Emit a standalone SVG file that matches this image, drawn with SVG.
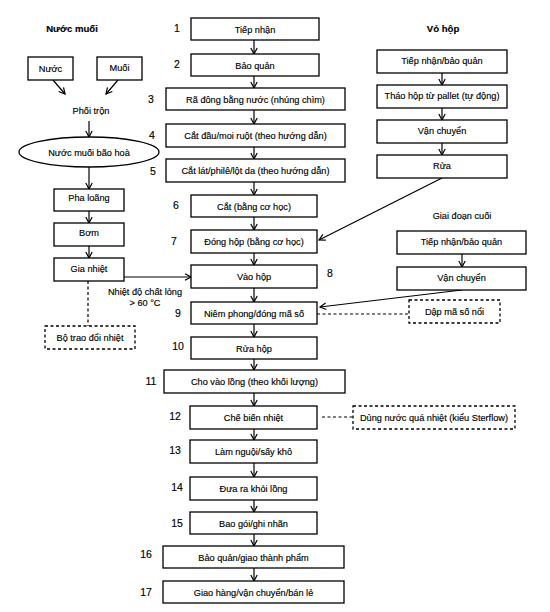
<svg xmlns="http://www.w3.org/2000/svg" width="550" height="612" viewBox="0 0 550 612">
<style>
text{font-family:"Liberation Sans",Arial,sans-serif;font-size:9.2px;fill:#000;stroke:#000;stroke-width:0.15}
.t{text-anchor:middle}
.b{font-weight:bold;font-size:9.6px}
.n{font-size:10.5px;text-anchor:middle}
rect,ellipse{fill:#fff;stroke:#000;stroke-width:1.3}
.d{stroke-dasharray:3,2.5}
.c line{stroke:#000;stroke-width:1.2}
.c .dl{stroke-dasharray:3,2.5}
</style>
<defs>
<marker id="a" markerWidth="8" markerHeight="8" refX="7" refY="4" orient="auto" markerUnits="userSpaceOnUse">
<path d="M1,0.8 L7,4 L1,7.2" fill="none" stroke="#000" stroke-width="1.2"/>
</marker>
</defs>
<rect x="0" y="0" width="550" height="612" style="stroke:none;fill:#fff"/>

<!-- titles -->
<text x="72" y="32" class="t b">Nước muối</text>
<text x="443" y="32" class="t b">Vỏ hộp</text>
<text x="462" y="219" class="t">Giai đoạn cuối</text>

<!-- numbers -->
<g id="numbers">
<text x="177" y="32" class="n">1</text>
<text x="177" y="68" class="n">2</text>
<text x="151" y="103" class="n">3</text>
<text x="152" y="139" class="n">4</text>
<text x="153" y="175" class="n">5</text>
<text x="176" y="209" class="n">6</text>
<text x="174" y="245" class="n">7</text>
<text x="330" y="277" class="n">8</text>
<text x="178" y="317" class="n">9</text>
<text x="178" y="350" class="n">10</text>
<text x="151" y="385" class="n">11</text>
<text x="175" y="420" class="n">12</text>
<text x="175" y="454" class="n">13</text>
<text x="177" y="491" class="n">14</text>
<text x="177" y="527" class="n">15</text>
<text x="146" y="558" class="n">16</text>
<text x="146" y="596" class="n">17</text>
</g>

<!-- connectors -->
<g id="connectors" class="c">
<line x1="254" y1="40" x2="254" y2="54" marker-end="url(#a)"/>
<line x1="254" y1="76" x2="254" y2="88" marker-end="url(#a)"/>
<line x1="254" y1="110" x2="254" y2="124" marker-end="url(#a)"/>
<line x1="254" y1="147" x2="254" y2="159" marker-end="url(#a)"/>
<line x1="254" y1="182" x2="254" y2="195" marker-end="url(#a)"/>
<line x1="254" y1="217" x2="254" y2="230" marker-end="url(#a)"/>
<line x1="254" y1="253" x2="254" y2="265" marker-end="url(#a)"/>
<line x1="254" y1="288" x2="254" y2="302" marker-end="url(#a)"/>
<line x1="254" y1="324" x2="254" y2="337" marker-end="url(#a)"/>
<line x1="254" y1="359" x2="254" y2="370" marker-end="url(#a)"/>
<line x1="254" y1="393" x2="254" y2="406" marker-end="url(#a)"/>
<line x1="254" y1="429" x2="254" y2="440" marker-end="url(#a)"/>
<line x1="254" y1="463" x2="254" y2="477" marker-end="url(#a)"/>
<line x1="254" y1="500" x2="254" y2="512" marker-end="url(#a)"/>
<line x1="254" y1="534" x2="254" y2="546" marker-end="url(#a)"/>
<line x1="254" y1="568" x2="254" y2="581" marker-end="url(#a)"/>
<!-- left -->
<line x1="53" y1="80" x2="65" y2="94" marker-end="url(#a)"/>
<line x1="118" y1="80" x2="106" y2="94" marker-end="url(#a)"/>
<line x1="89" y1="121" x2="89" y2="137" marker-end="url(#a)"/>
<line x1="89" y1="167" x2="89" y2="189" marker-end="url(#a)"/>
<line x1="89" y1="211" x2="89" y2="223" marker-end="url(#a)"/>
<line x1="89" y1="246" x2="89" y2="258" marker-end="url(#a)"/>
<line x1="124" y1="277" x2="191" y2="277" marker-end="url(#a)"/>
<line x1="88" y1="281" x2="88" y2="326" class="dl"/>
<!-- right -->
<line x1="442" y1="73" x2="442" y2="85" marker-end="url(#a)"/>
<line x1="442" y1="108" x2="442" y2="120" marker-end="url(#a)"/>
<line x1="442" y1="143" x2="442" y2="155" marker-end="url(#a)"/>
<line x1="442" y1="178" x2="319" y2="240" marker-end="url(#a)"/>
<line x1="462" y1="254" x2="462" y2="267" marker-end="url(#a)"/>
<line x1="462" y1="290" x2="320" y2="307" marker-end="url(#a)"/>
<line x1="317" y1="314" x2="409" y2="314" class="dl"/>
<line x1="322" y1="417" x2="353" y2="417" class="dl"/>
</g>

<!-- center nodes -->
<g id="n1"><rect x="191" y="18" width="128" height="22"/><text x="255" y="32.5" class="t">Tiếp nhận</text></g>
<g id="n2"><rect x="191" y="54" width="128" height="22"/><text x="255" y="68.5" class="t">Bảo quản</text></g>
<g id="n3"><rect x="166" y="88" width="179" height="22"/><text x="255.5" y="102.5" class="t">Rã đông bằng nước (nhúng chìm)</text></g>
<g id="n4"><rect x="166" y="124" width="179" height="23"/><text x="255.5" y="138.5" class="t">Cắt đầu/moi ruột (theo hướng dẫn)</text></g>
<g id="n5"><rect x="166" y="159" width="179" height="23"/><text x="255.5" y="173.5" class="t">Cắt lát/philê/lột da (theo hướng dẫn)</text></g>
<g id="n6"><rect x="191" y="195" width="126" height="22"/><text x="254" y="209.5" class="t">Cắt (bằng cơ học)</text></g>
<g id="n7"><rect x="191" y="230" width="126" height="23"/><text x="254" y="244.5" class="t">Đóng hộp (bằng cơ học)</text></g>
<g id="n8"><rect x="191" y="265" width="126" height="23"/><text x="254" y="279.5" class="t">Vào hộp</text></g>
<g id="n9"><rect x="191" y="302" width="126" height="22"/><text x="254" y="316.5" class="t">Niêm phong/đóng mã số</text></g>
<g id="n10"><rect x="191" y="337" width="126" height="22"/><text x="254" y="351.5" class="t">Rửa hộp</text></g>
<g id="n11"><rect x="164" y="370" width="181" height="23"/><text x="254.5" y="384.5" class="t">Cho vào lồng (theo khối lượng)</text></g>
<g id="n12"><rect x="190" y="406" width="127" height="23"/><text x="253.5" y="420.5" class="t">Chế biến nhiệt</text></g>
<g id="n13"><rect x="190" y="440" width="127" height="23"/><text x="253.5" y="454.5" class="t">Làm nguội/sấy khô</text></g>
<g id="n14"><rect x="190" y="477" width="127" height="23"/><text x="253.5" y="491.5" class="t">Đưa ra khỏi lồng</text></g>
<g id="n15"><rect x="190" y="512" width="127" height="22"/><text x="253.5" y="526.5" class="t">Bao gói/ghi nhãn</text></g>
<g id="n16"><rect x="163" y="546" width="181" height="22"/><text x="253.5" y="560.5" class="t">Bảo quản/giao thành phẩm</text></g>
<g id="n17"><rect x="163" y="581" width="181" height="22"/><text x="253.5" y="595.5" class="t">Giao hàng/vận chuyển/bán lẻ</text></g>

<!-- left nodes -->
<g id="nuoc"><rect x="28" y="57" width="45" height="23"/><text x="50.5" y="71.5" class="t">Nước</text></g>
<g id="muoi"><rect x="97" y="57" width="45" height="23"/><text x="119.5" y="70.5" class="t">Muối</text></g>
<g id="phoitron"><text x="91" y="114" class="t">Phối trộn</text></g>
<g id="nuocmuoibh"><ellipse cx="89" cy="152" rx="70" ry="15"/><text x="89" y="155.5" class="t">Nước muối bão hoà</text></g>
<g id="phaloang"><rect x="54" y="189" width="70" height="22"/><text x="89" y="201" class="t">Pha loãng</text></g>
<g id="bom"><rect x="54" y="223" width="70" height="23"/><text x="89" y="236" class="t">Bơm</text></g>
<g id="gianhiet"><rect x="54" y="258" width="70" height="23"/><text x="89" y="271.5" class="t">Gia nhiệt</text></g>
<g id="nhietdo"><text x="145" y="295" class="t">Nhiệt độ chất lỏng</text><text x="145" y="306" class="t">&gt; 60 °C</text></g>
<g id="botraodoi"><rect x="45" y="326" width="90" height="23" class="d"/><text x="90" y="340.5" class="t">Bộ trao đổi nhiệt</text></g>

<!-- right nodes -->
<g id="vh1"><rect x="377" y="50" width="130" height="23"/><text x="442" y="64" class="t">Tiếp nhận/bảo quản</text></g>
<g id="vh2"><rect x="377" y="85" width="130" height="23"/><text x="442" y="99" class="t">Tháo hộp từ pallet (tự động)</text></g>
<g id="vh3"><rect x="377" y="120" width="130" height="23"/><text x="442" y="134" class="t">Vận chuyển</text></g>
<g id="vh4"><rect x="377" y="155" width="130" height="23"/><text x="442" y="169" class="t">Rửa</text></g>
<g id="gc1"><rect x="397" y="231" width="129" height="23"/><text x="461.5" y="245" class="t">Tiếp nhận/bảo quản</text></g>
<g id="gc2"><rect x="397" y="267" width="129" height="23"/><text x="461.5" y="281" class="t">Vận chuyển</text></g>
<g id="dapmaso"><rect x="409" y="300" width="91" height="23" class="d"/><text x="454.5" y="314.5" class="t">Dập mã số nổi</text></g>
<g id="dungnuoc"><rect x="353" y="406" width="162" height="23" class="d"/><text x="434" y="420.5" class="t">Dùng nước quá nhiệt (kiểu Sterflow)</text></g>
</svg>
